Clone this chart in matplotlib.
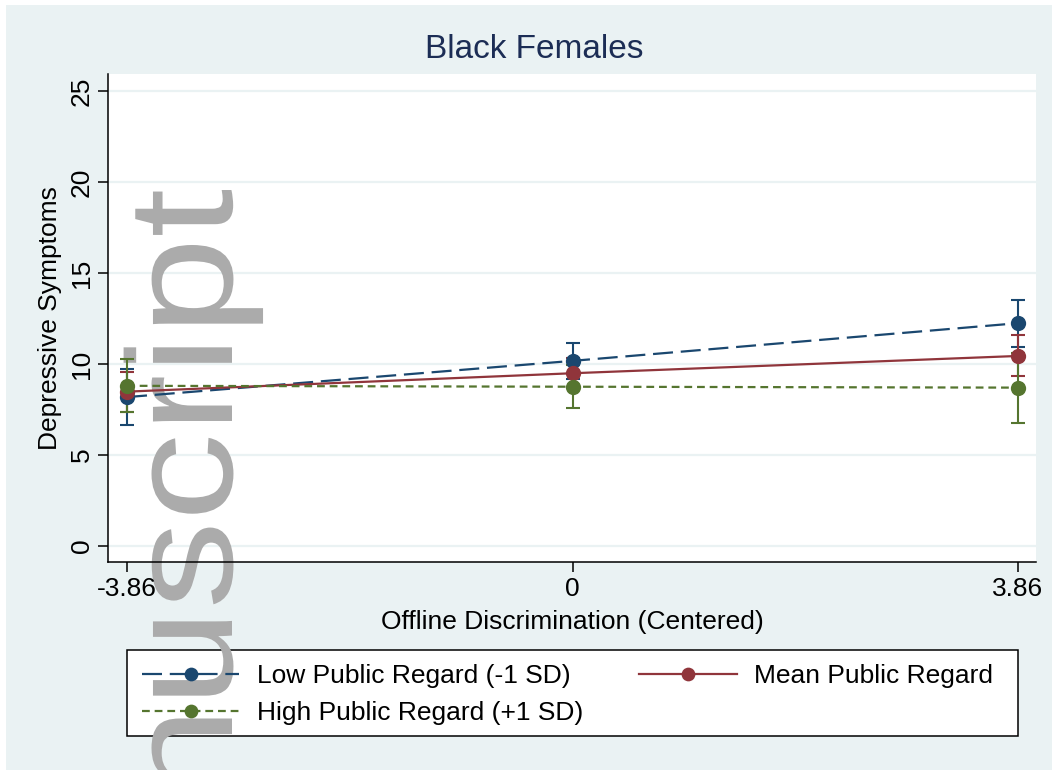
import matplotlib
matplotlib.use("Agg")
import matplotlib.pyplot as plt
from matplotlib.patches import Rectangle, PathPatch
from matplotlib.textpath import TextPath
from matplotlib.font_manager import FontProperties
from matplotlib.transforms import Affine2D

plt.rcParams['font.family'] = ['Liberation Sans', 'DejaVu Sans']

# values
x = [-3.86, 0, 3.86]
low_y = [8.18, 10.17, 12.24]
low_lo = [6.65, 9.18, 10.92]
low_hi = [9.71, 11.17, 13.52]
mean_y = [8.48, 9.49, 10.44]
mean_lo = [7.38, 8.70, 9.32]
mean_hi = [9.58, 10.30, 11.59]
high_y = [8.80, 8.75, 8.70]
high_lo = [7.36, 7.56, 6.78]
high_hi = [10.27, 9.94, 10.62]

yticks = [0, 5, 10, 15, 20, 25]
xticks = [-3.86, 0, 3.86]
xticklabels = ['-3.86', '0', '3.86']

navy = '#1A476F'
maroon = '#90353B'
green = '#55752F'
bg = '#EAF2F3'
fs = 19

W, H = 1052, 770
fig = plt.figure(figsize=(W / 100, H / 100), dpi=100, facecolor='white')
fig.patches.append(Rectangle((6 / W, 0), 1, (H - 5) / H, transform=fig.transFigure,
                             facecolor=bg, edgecolor='none', zorder=-10))

ax = fig.add_axes([108 / W, 1 - 562 / H, 928 / W, 488 / H])
ax.set_facecolor('white')
ax.set_xlim(-4.025, 4.016)
ax.set_ylim(-0.88, 25.93)

for t in yticks:
    ax.axhline(t, color=bg, lw=1.6, zorder=0.8)

series = [
    ('Low Public Regard (-1 SD)', low_y, low_lo, low_hi, navy, (0, (9, 3.5))),
    ('Mean Public Regard', mean_y, mean_lo, mean_hi, maroon, '-'),
    ('High Public Regard (+1 SD)', high_y, high_lo, high_hi, green, (0, (3.5, 2.2))),
]

handles = {}
for i, (lab, y, lo, hi, col, ls) in enumerate(series):
    err = [[yy - l for yy, l in zip(y, lo)], [h - yy for yy, h in zip(y, hi)]]
    ax.errorbar(x, y, yerr=err, fmt='none', ecolor=col, elinewidth=1.5,
                capsize=5, capthick=1.5, zorder=2 + i * 0.1)
for i, (lab, y, lo, hi, col, ls) in enumerate(series):
    h, = ax.plot(x, y, color=col, ls=ls, lw=1.6, marker='o', markersize=11,
                 markeredgewidth=0, label=lab, zorder=3 + i * 0.1)
    handles[lab] = h

# watermark, squeezed a little across the glyph height
tp = TextPath((0, 0), 'nuscript', size=176, prop=FontProperties(family='Liberation Sans'))
ext = tp.get_extents()
wm_tr = (Affine2D().scale(1.0, 0.85).rotate_deg(90)
         .translate(232, (H - 190) - ext.x1))
ax.add_patch(PathPatch(tp, transform=wm_tr, facecolor='#ABABAB', edgecolor='none',
                       zorder=1.4, clip_on=False))

for s in ['top', 'right']:
    ax.spines[s].set_visible(False)
for s in ['left', 'bottom']:
    ax.spines[s].set_linewidth(1.1)
    ax.spines[s].set_color('black')

ax.set_yticks(yticks)
ax.set_xticks(xticks)
ax.set_xticklabels(xticklabels)
ax.tick_params(axis='y', length=7, width=1.1, pad=3, labelsize=fs, labelrotation=90)
ax.tick_params(axis='x', length=7, width=1.1, pad=4, labelsize=fs)
for lbl in ax.get_yticklabels():
    lbl.set_va('center')

ax.set_ylabel('Depressive Symptoms', fontsize=fs)
ax.yaxis.set_label_coords(-0.0496, 0.5)
ax.set_xlabel('Offline Discrimination (Centered)', fontsize=fs, va='top')
ax.xaxis.set_label_coords(0.5, -0.098)

fig.text(534 / W, 1 - 50 / H, 'Black Females', ha='center', va='center',
         fontsize=24, color='#1C2D55')

# legend box
lx0, ly0, lw, lh = 127 / W, 1 - 736 / H, 891 / W, 86 / H
ax.add_patch(Rectangle((lx0, ly0), lw, lh, transform=fig.transFigure, facecolor='white',
                       edgecolor='black', lw=1.1, zorder=1, clip_on=False))
order = ['Low Public Regard (-1 SD)', 'High Public Regard (+1 SD)', 'Mean Public Regard']
fig.legend([handles[k] for k in order], order, loc='center',
           bbox_to_anchor=(lx0 + 0.004, ly0 - 0.002, lw - 0.018, lh), bbox_transform=fig.transFigure,
           mode='expand', ncol=2, frameon=False, fontsize=fs, handlelength=3.7,
           handletextpad=0.65, labelspacing=0.5, markerscale=0.9, borderaxespad=0)

fig.savefig('out.png', dpi=100, facecolor='white')
